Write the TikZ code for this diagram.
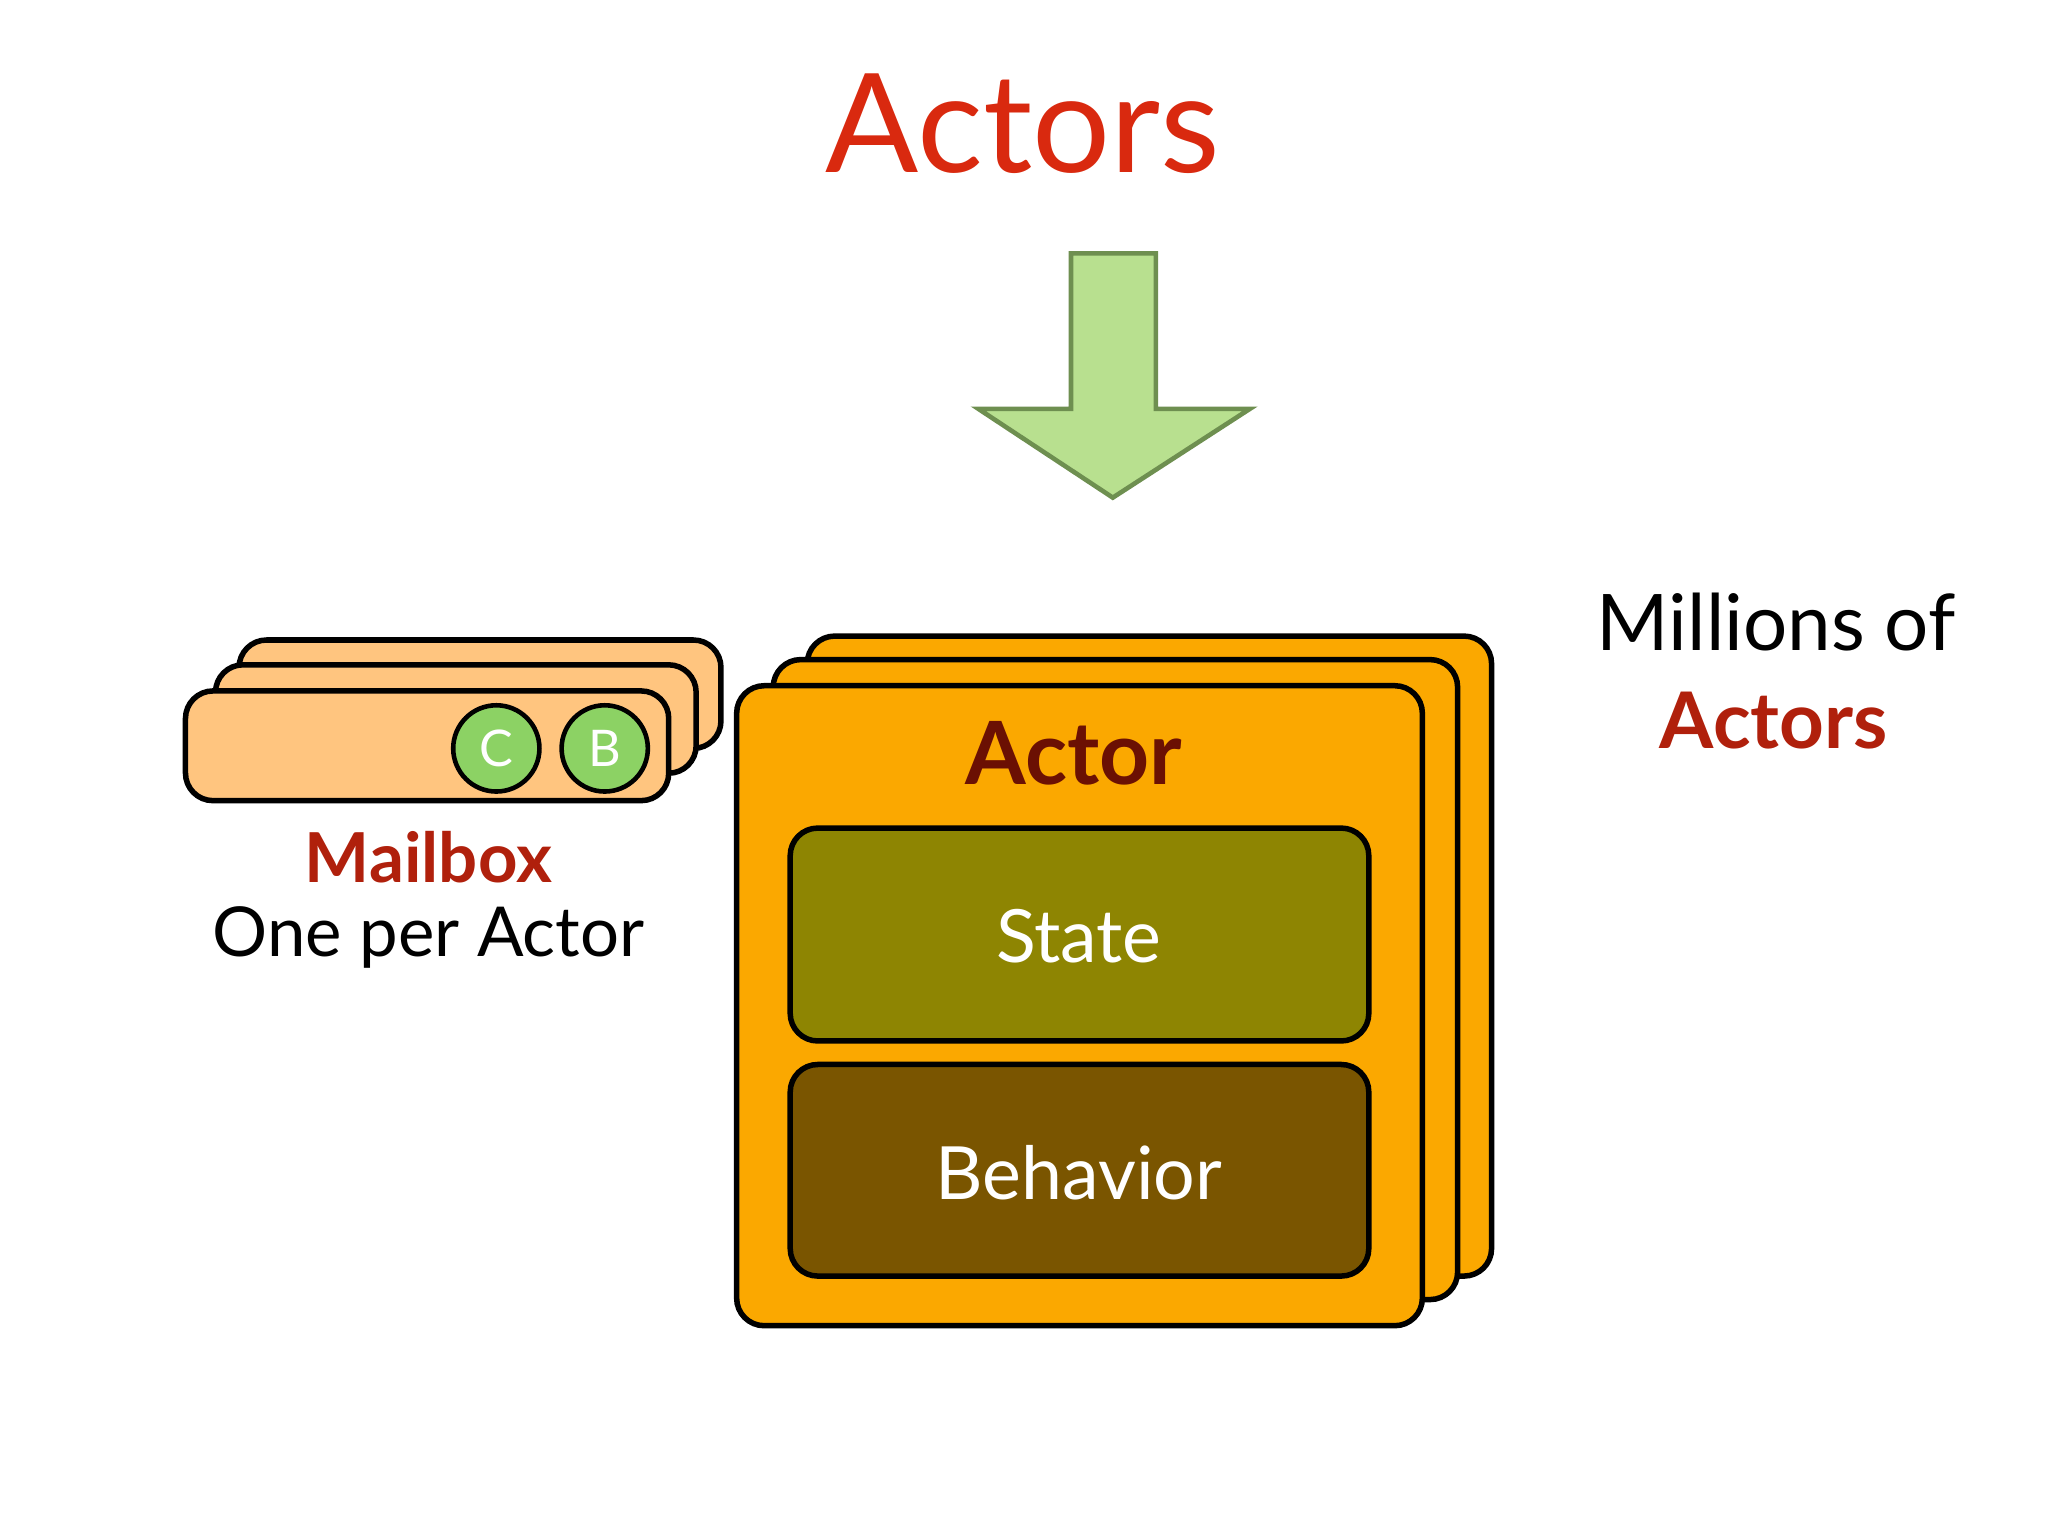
\documentclass[tikz,border=0pt]{standalone}
\usepackage{fontspec}
\setmainfont{Lato}
\definecolor{titlered}{HTML}{D9290F}
\definecolor{darkred}{HTML}{6B1003}
\definecolor{midred}{HTML}{B0200C}
\definecolor{actorfill}{HTML}{FBA800}
\definecolor{statefill}{HTML}{8E8502}
\definecolor{behfill}{HTML}{7A5500}
\definecolor{mailfill}{HTML}{FFC57F}
\definecolor{arrowfill}{HTML}{B8E08F}
\definecolor{arrowline}{HTML}{6E8F50}
\definecolor{msgfill}{HTML}{8CD264}
\tikzset{
  actorbox/.style={draw=black,line width=1.2pt,fill=actorfill,rounded corners=6pt},
  mailbox/.style={draw=black,line width=1.2pt,fill=mailfill,rounded corners=6pt},
  inner/.style={draw=black,line width=1.2pt,rounded corners=6pt},
  msg/.style={circle,draw=black,line width=1pt,fill=msgfill,minimum size=0.66cm,inner sep=0pt,text=white,font=\fontsize{11}{11}\selectfont},
  lbl/.style={inner sep=0pt,anchor=center}
}
\begin{document}
\begin{tikzpicture}[x=0.01cm,y=-0.01cm]
\useasboundingbox (0,0) rectangle (1568,1176);
\node[lbl,text=titlered,font=\fontsize{30}{30}\selectfont] (title) at (783,95) {Actors};
\draw[fill=arrowfill,draw=arrowline,line width=1pt] (820,194) -- (885,194) -- (885,313) -- (957,313) -- (852,381) -- (749,313) -- (820,313) -- cycle;
\coordinate (arrowtip) at (852,381);
% actor stack
\draw[actorbox] (618,487) rectangle (1142,977);
\draw[actorbox] (592,505) rectangle (1116,995);
\draw[actorbox] (564,525) rectangle (1089,1015);
\node[lbl,text=darkred,font=\bfseries\fontsize{19}{19}\selectfont] (actor) at (822,577) {Actor};
\draw[inner,fill=statefill] (605,634) rectangle (1048,797);
\node[lbl,text=white,font=\fontsize{16}{16}\selectfont] (state) at (826,717) {State};
\draw[inner,fill=behfill] (605,815) rectangle (1048,977);
\node[lbl,text=white,font=\fontsize{16}{16}\selectfont] (beh) at (826,898) {Behavior};
% mailbox stack
\draw[mailbox] (183,490) rectangle (552,573);
\draw[mailbox] (165,509) rectangle (533,592);
\draw[mailbox] (142,529) rectangle (512,613);
\node[msg] (c) at (380,573) {C};
\node[msg] (b) at (463,573) {B};
\node[lbl,text=midred,font=\bfseries\fontsize{15}{15}\selectfont] (mail) at (328,656) {Mailbox};
\node[lbl,text=black,font=\fontsize{15}{15}\selectfont] (one) at (328,718) {One per Actor};
\node[lbl,text=black,font=\fontsize{17}{17}\selectfont] (mill) at (1360,476) {Millions of};
\node[lbl,text=midred,font=\bfseries\fontsize{17}{17}\selectfont] (mact) at (1358,552) {Actors};
\end{tikzpicture}
\end{document}
